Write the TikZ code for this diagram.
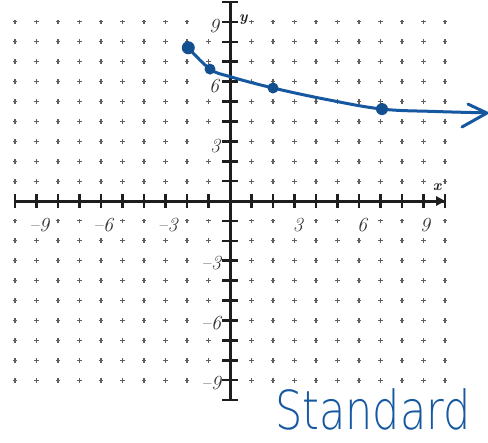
\documentclass[tikz,border=0pt]{standalone}
\usepackage{fontspec}
\usetikzlibrary{arrows.meta}
\newfontfamily\handfont{DejaVu Sans ExtraLight}
\definecolor{curveblue}{RGB}{22,88,160}
\definecolor{gridgray}{RGB}{95,95,95}
\definecolor{axisblack}{RGB}{30,30,30}
\tikzset{
  gridmark/.style={draw=gridgray, line width=1.1pt},
  axisline/.style={draw=axisblack, line width=3pt},
  tickmark/.style={draw=axisblack, line width=2.6pt},
  ticklabel/.style={text=axisblack!90, font=\itshape\fontsize{20}{20}\selectfont, inner sep=0pt},
  axislabel/.style={text=axisblack, font=\bfseries\itshape\fontsize{15}{15}\selectfont, inner sep=0pt},
  curve/.style={draw=curveblue, line width=3pt, line cap=round, line join=round},
  ptdot/.style={fill=curveblue!90!black},
}
\begin{document}
\begin{tikzpicture}[x=21.5pt,y=19.9pt]
\useasboundingbox (-10.698,10.101) rectangle (12.0,-12.111);
% grid marks (skipped on the axes and where the scale labels stand)
\foreach \i in {-10,...,10}{
  \foreach \j in {-9,...,9}{
    \pgfmathtruncatemacro{\skip}{(\i==0) || (\j==0)
      || ((\j==-1) && (abs(\i)==3 || abs(\i)==6 || abs(\i)==9))
      || ((\i==-1) && (abs(\j)==3 || abs(\j)==6 || abs(\j)==9)) ? 1 : 0}
    \ifnum\skip=0
      \draw[gridmark] (\i,\j) +(-2.4pt,0) -- +(2.4pt,0) +(0,-2.4pt) -- +(0,2.4pt);
    \fi
  }
}
% axes
\coordinate (xl) at (-10,0);
\coordinate (xr) at (10,0);
\coordinate (yt) at (0,10);
\coordinate (yb) at (0,-10);
\draw[axisline] (xl) -- (xr);
\draw[axisline] (yb) -- (yt);
\draw[tickmark] (xl) +(0,-7pt) -- +(0,7pt);
\draw[tickmark] (xr) +(0,-7pt) -- +(0,7pt);
\draw[tickmark] (yt) +(-8pt,0) -- +(8pt,0);
\draw[tickmark] (yb) +(-8pt,0) -- +(8pt,0);
\fill[axisblack] (xr) -- ++(-9pt,5pt) -- ++(0,-10pt) -- cycle;
\foreach \i in {-9,...,-1,1,2,...,9}{
  \draw[tickmark] (\i,0) +(0,-7pt) -- +(0,7pt);
  \draw[tickmark] (0,\i) +(-8pt,0) -- +(8pt,0);
}
% tick labels
\node[ticklabel] (ly9) at (-0.50,8.80) [anchor=east] {9};
\node[ticklabel] (ly6) at (-0.50,5.80) [anchor=east] {6};
\node[ticklabel] (ly3) at (-0.45,2.75) [anchor=east] {3};
\node[ticklabel] (lym3) at (-0.40,-3.10) [anchor=east] {\textendash3};
\node[ticklabel] (lym6) at (-0.40,-6.12) [anchor=east] {\textendash6};
\node[ticklabel] (lym9) at (-0.40,-9.15) [anchor=east] {\textendash9};
\node[ticklabel] (lxm9) at (-8.88,-1.2) {\textendash9};
\node[ticklabel] (lxm6) at (-5.90,-1.2) {\textendash6};
\node[ticklabel] (lxm3) at (-2.90,-1.2) {\textendash3};
\node[ticklabel] (lx3) at (3.16,-1.2) {3};
\node[ticklabel] (lx6) at (6.14,-1.2) {6};
\node[ticklabel] (lx9) at (9.07,-1.2) {9};
\node[axislabel] (xlab) at (9.63,0.70) {x};
\node[axislabel] (ylab) at (0.62,9.10) {y};
% curve
\draw[curve] plot[smooth, tension=0.6] coordinates {(-1.94,7.70) (-0.93,6.63) (0,6.25) (2,5.68) (4.5,5.1) (7.07,4.62) (9.5,4.5) (11.9,4.43)};
\draw[curve] (11.07,4.87) -- (11.95,4.42) -- (10.79,3.72);
\fill[ptdot] (-1.94,7.70) circle (6.5pt);
\fill[ptdot] (-0.93,6.63) circle (5.5pt);
\fill[ptdot] (2,5.68) circle (5.5pt);
\fill[ptdot] (7.07,4.62) circle (6pt);
% caption
\node[text=curveblue, font=\handfont\fontsize{43}{43}\selectfont, yscale=1.25, anchor=base, inner sep=0pt] (std) at (6.65,-11.5) {Standard};
\end{tikzpicture}
\end{document}
